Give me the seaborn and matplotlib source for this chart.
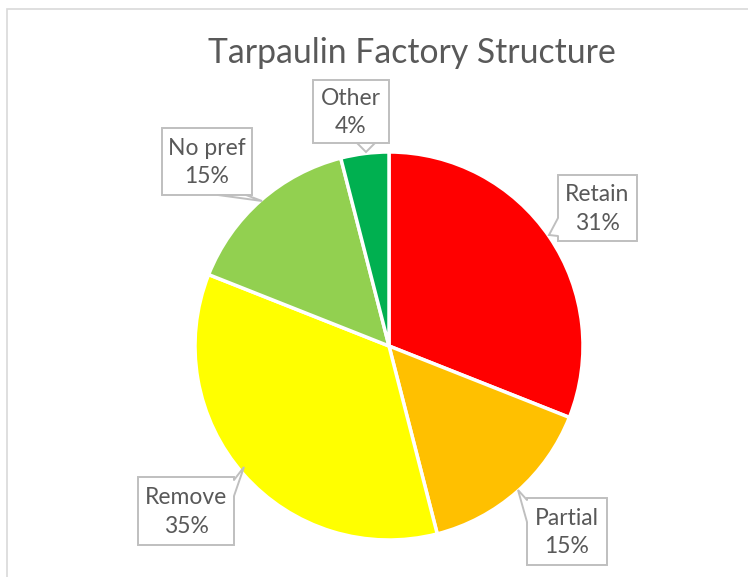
import matplotlib
matplotlib.use("Agg")
import matplotlib.pyplot as plt
import matplotlib.patches as mpatches
import seaborn as sns

# data
labels = ["Retain", "Partial", "Remove", "No pref", "Other"]
shares = [31, 15, 35, 15, 4]
colors = ["#FF0000", "#FFC000", "#FFFF00", "#92D050", "#00B050"]

sns.set_theme(style="white")
plt.rcParams['font.family'] = ['Lato', 'DejaVu Sans']

W, H = 748, 577
CX, CY, R = 389, 346, 194   # pie centre / radius in pixels
GREY = "#BFBFBF"
TXT = "#595959"


def px(x, y):
    # pixel position -> data units (pie radius = 1)
    return ((x - CX) / R, (CY - y) / R)


fig = plt.figure(figsize=(W / 100, H / 100), dpi=100)
ax = fig.add_axes([0, 0, 1, 1])

ax.pie(shares, colors=colors, startangle=90, counterclock=False,
       radius=1, center=(0, 0),
       wedgeprops=dict(edgecolor="white", linewidth=2.5))
ax.set_xlim(-CX / R, (W - CX) / R)
ax.set_ylim(-(H - CY) / R, CY / R)
ax.set_aspect("auto")
ax.axis("off")

# callouts: box (x0, y0, x1, y1), tail base points, tail tip -- all pixels
callouts = {
    "Retain":  ((558, 175, 637, 241), (558, 218), (558, 236), (549, 235), (1, 0)),
    "Partial": ((527, 498, 607, 565), (527, 500), (527, 522), (518, 490), (1, 0)),
    "Remove":  ((138, 477, 234, 545), (234, 480), (234, 496), (244, 467), (-1, 0)),
    "No pref": ((162, 128, 252, 195), (218, 195), (246, 195), (262, 201), (0, -1)),
    "Other":   ((313, 80, 389, 143), (357, 143), (375, 143), (366, 152), (0, -1)),
}
for lab, val in zip(labels, shares):
    (x0, y0, x1, y1), b1, b2, tip, (dx, dy) = callouts[lab]
    # box
    ax.add_patch(mpatches.Rectangle(px(x0, y1), (x1 - x0) / R, (y1 - y0) / R,
                                    fc="white", ec=GREY, lw=1.4, zorder=4))
    # tail: white fill hides the box border, then the two grey sides
    b1i = (b1[0] + 2 * dx, b1[1] - 2 * dy)
    b2i = (b2[0] + 2 * dx, b2[1] - 2 * dy)
    ax.add_patch(mpatches.Polygon([px(*b1i), px(*b1), px(*tip), px(*b2), px(*b2i)],
                                  closed=True, fc="white", ec="none", zorder=5))
    xs, ys = zip(px(*b1), px(*tip), px(*b2))
    ax.plot(xs, ys, color=GREY, lw=1.4, zorder=6, solid_joinstyle="miter")
    cx, cy = px((x0 + x1) / 2, (y0 + y1) / 2 + 1)
    ax.text(cx, cy, f"{lab}\n{val}%", ha="center", va="center", fontsize=16.5,
            color=TXT, linespacing=1.45, zorder=7)

fig.text(412 / W, 1 - 53 / H, "Tarpaulin Factory Structure", ha="center",
         va="center", fontsize=24.3, color=TXT)

# chart area border
fig.patches.append(mpatches.Rectangle((7 / W, -0.1), 1.2, 1.1 - 9 / H,
                                      transform=fig.transFigure, fill=False,
                                      ec="#D9D9D9", lw=1.2))

fig.savefig("out.png", dpi=100)
